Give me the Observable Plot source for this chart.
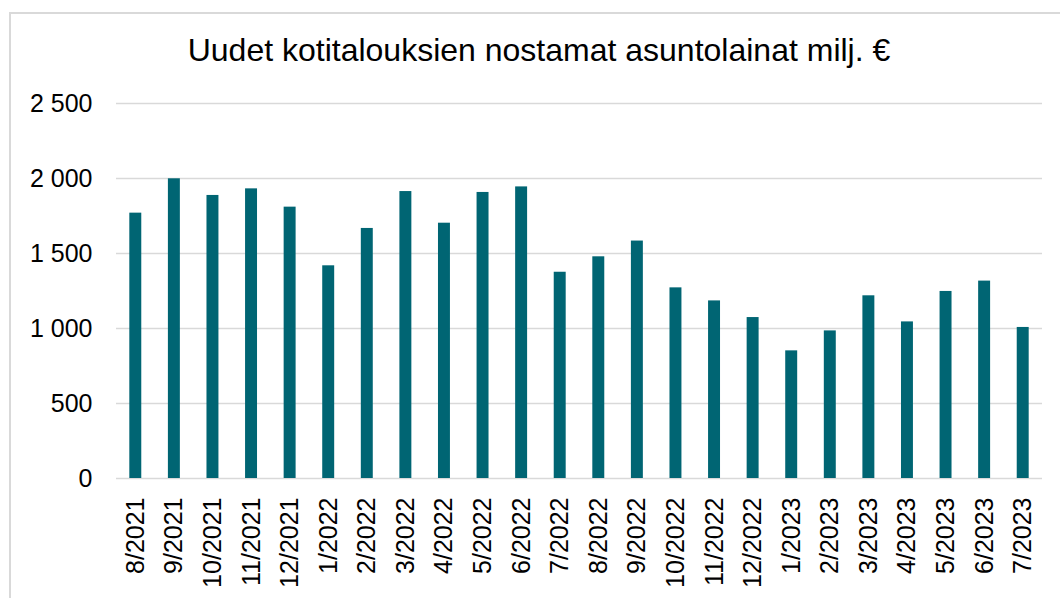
<!DOCTYPE html>
<html>
<head>
<meta charset="utf-8">
<script src="https://cdn.jsdelivr.net/npm/d3@7"></script>
<script src="https://cdn.jsdelivr.net/npm/@observablehq/plot@0.6"></script>
<style>
  html, body { margin: 0; padding: 0; background: #fff; }
  body { width: 1060px; height: 598px; overflow: hidden; font-family: "Liberation Sans", Arial, sans-serif; }
  #wrap { position: relative; width: 1060px; height: 598px; }
  #frame { position: absolute; left: 9px; top: 12px; width: 1100px; height: 700px; border-left: 2px solid #d9d9d9; border-top: 2px solid #d9d9d9; box-sizing: border-box; }
  #title { position: absolute; left: 9px; width: 1060px; top: 30px; text-align: center; font-size: 32px; color: #000; line-height: 40px; }
  #chart { position: absolute; left: 0; top: 0; }
</style>
</head>
<body>
<div id="wrap">
  <div id="frame"></div>
  <div id="chart"></div>
  <div id="title">Uudet kotitalouksien nostamat asuntolainat milj. €</div>
</div>
<script>
const months = ["8/2021","9/2021","10/2021","11/2021","12/2021","1/2022","2/2022","3/2022","4/2022","5/2022","6/2022","7/2022","8/2022","9/2022","10/2022","11/2022","12/2022","1/2023","2/2023","3/2023","4/2023","5/2023","6/2023","7/2023"];
const values = [1769,1998,1887,1931,1809,1418,1667,1913,1702,1907,1944,1375,1478,1583,1271,1184,1073,851,984,1218,1044,1247,1316,1007];
const yTicks = [0,500,1000,1500,2000,2500];

const data = months.map((m, i) => ({month: m, value: values[i]}));
const fmt = v => d3.format(",")(v).replace(/,/g, " ");

const chart = Plot.plot({
  width: 1060,
  height: 598,
  marginTop: 103,
  marginBottom: 120,
  marginLeft: 116,
  marginRight: 18,
  style: {fontFamily: "'Liberation Sans', Arial, sans-serif", fontSize: "25px", color: "#000", background: "transparent"},
  x: {domain: months, paddingInner: 0.69, paddingOuter: 0.345, round: false, label: null, tickSize: 0, tickPadding: 19, tickRotate: -90},
  y: {domain: [0, 2500], ticks: yTicks, tickFormat: fmt, label: null, tickSize: 0, tickPadding: 24},
  marks: [
    Plot.gridY(yTicks, {stroke: "#d9d9d9", strokeOpacity: 1, strokeWidth: 1.6}),
    Plot.barY(data, {x: "month", y: "value", fill: "#006573"}),
    Plot.axisX({tickSize: 0, tickPadding: 19, tickRotate: -90, fontSize: 25, textAnchor: "end"}),
    Plot.axisY({ticks: yTicks, tickFormat: fmt, tickSize: 0, tickPadding: 24, fontSize: 25})
  ]
});
document.getElementById("chart").appendChild(chart);
</script>
</body>
</html>
